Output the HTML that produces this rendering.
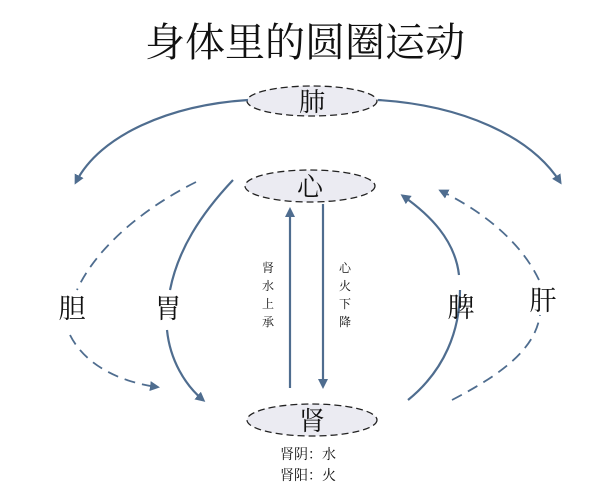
<!DOCTYPE html>
<html><head><meta charset="utf-8"><style>
html,body{margin:0;padding:0;background:#fff;}
svg{display:block;}
text{font-family:"Liberation Serif","Noto Serif CJK SC",serif;fill:#111;}
</style></head><body>
<svg width="609" height="490" viewBox="0 0 609 490" xmlns="http://www.w3.org/2000/svg">
<defs>
<marker id="a" markerWidth="10" markerHeight="10" refX="7" refY="5" orient="auto" markerUnits="userSpaceOnUse">
<path d="M0,0 L10,5 L0,10 Z" fill="#4f6d8f"/></marker>
</defs>
<text x="305" y="56" font-size="40" text-anchor="middle">身体里的圆圈运动</text>
<g fill="#ebebf2" stroke="#222" stroke-width="1.3" stroke-dasharray="7,4">
<ellipse cx="312" cy="101" rx="65" ry="15"/>
<ellipse cx="310" cy="186" rx="65" ry="16"/>
<ellipse cx="312" cy="420" rx="65" ry="16"/>
</g>
<text x="312" y="111" font-size="26" text-anchor="middle">肺</text>
<text x="310" y="196" font-size="26" text-anchor="middle">心</text>
<text x="312" y="430" font-size="26" text-anchor="middle">肾</text>
<text x="280" y="459" font-size="14">肾阴：水</text>
<text x="280" y="480" font-size="14">肾阳：火</text>
<g fill="none" stroke="#4f6d8f" stroke-width="2.2">
<path d="M248,100 C170,105 100,135 76,182" marker-end="url(#a)"/>
<path d="M378,100 C460,105 530,135 560,182" marker-end="url(#a)"/>
<path d="M233,180 C200,215 178,250 170,290" />
<path d="M167,330 C170,360 185,385 203,400" marker-end="url(#a)"/>
<path d="M408,400 C445,370 460,330 460,290" />
<path d="M459,275 C455,240 430,215 403,196" marker-end="url(#a)"/>
<path d="M290,388 L290,210" marker-end="url(#a)"/>
<path d="M323,204 L323,386" marker-end="url(#a)"/>
</g>
<g fill="none" stroke="#4f6d8f" stroke-width="1.8" stroke-dasharray="11,7">
<path d="M196,182 C140,210 95,250 77,290"/>
<path d="M70,335 C85,365 120,382 157,387" marker-end="url(#a)"/>
<path d="M452,400 C500,375 535,350 540,315"/>
<path d="M539,280 C520,240 480,210 441,191" marker-end="url(#a)"/>
</g>
<text x="72" y="318" font-size="27" text-anchor="middle">胆</text>
<text x="168" y="318" font-size="27" text-anchor="middle">胃</text>
<text x="461" y="317" font-size="27" text-anchor="middle">脾</text>
<text x="543" y="310" font-size="27" text-anchor="middle">肝</text>
<g font-size="12" text-anchor="middle">
<text x="268" y="272">肾</text><text x="268" y="290">水</text><text x="268" y="308">上</text><text x="268" y="326">承</text>
<text x="345" y="272">心</text><text x="345" y="290">火</text><text x="345" y="308">下</text><text x="345" y="326">降</text>
</g>
</svg>
</body></html>
